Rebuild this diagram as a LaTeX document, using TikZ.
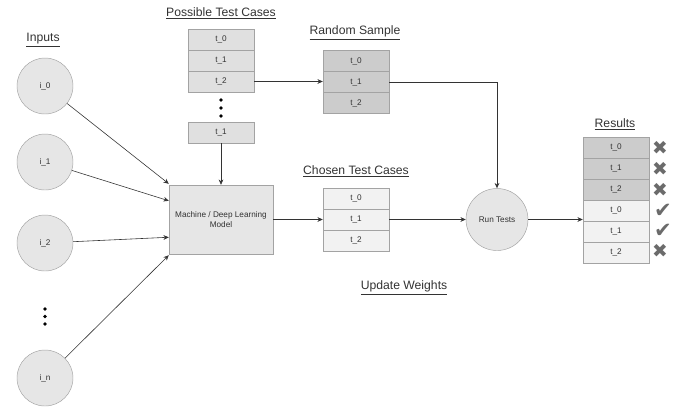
\documentclass[tikz,border=0pt]{standalone}
\usepackage{fontspec}
\setmainfont{Liberation Sans}
\newfontfamily\markfont{DejaVu Sans}
\usepackage{tikz}
\usetikzlibrary{arrows.meta,calc}
\definecolor{EdgeGray}{HTML}{A3A3A3}
\definecolor{TextGray}{HTML}{333333}
\definecolor{CaseFill}{HTML}{E0E0E0}
\definecolor{SampleFill}{HTML}{CCCCCC}
\definecolor{ChosenFill}{HTML}{F2F2F2}
\definecolor{ModelFill}{HTML}{E6E6E6}
\definecolor{MarkGray}{HTML}{6B6B6B}

\begin{document}
\begin{tikzpicture}[x=0.03cm, y=-0.03cm,
    cell/.style = {draw=EdgeGray, minimum width=1.98cm, minimum height=0.63cm,
                   inner sep=0pt, text=TextGray, font=\fontsize{7}{8}\selectfont},
    inputnode/.style = {circle, draw=EdgeGray, fill=ModelFill, minimum size=1.68cm,
                        inner sep=0pt, text=TextGray, font=\fontsize{7}{8}\selectfont},
    heading/.style = {text=TextGray, font=\fontsize{10.4}{12}\selectfont},
    resultmark/.style = {text=MarkGray, font=\markfont\fontsize{16}{17}\selectfont,
                         inner sep=0pt, text height=0.72em, text depth=0.02em},
    link/.style = {draw=black!80, line width=0.5pt, -{Stealth[length=4.5pt,width=4pt]}}]
    \useasboundingbox (0,0) rectangle (682,406);
    %% Headings
    \node[heading] (hinputs) at (43,40) {\underline{Inputs}};
    \node[heading] (hpossible) at (221,13) {\underline{Possible Test Cases}};
    \node[heading] (hrandom) at (355,33) {\underline{Random Sample}};
    \node[heading] (hchosen) at (356,171) {\underline{Chosen Test Cases}};
    \node[heading] (hresults) at (615,124) {\underline{Results}};
    \node[heading] (hupdate) at (404,288) {\underline{Update Weights}};
    %% Inputs
    \node[inputnode] (i0) at (45,86) {i\_0};
    \node[inputnode] (i1) at (45,162) {i\_1};
    \node[inputnode] (i2) at (45,243) {i\_2};
    \node[inputnode] (in) at (45,378) {i\_n};
    \fill (45,309) circle (1.8) (45,316.5) circle (1.8) (45,324) circle (1.8);
    %% Possible test cases
    \node[cell, fill=CaseFill] (pt0) at (221,39.5) {t\_0};
    \node[cell, fill=CaseFill] (pt1) at (221,60.5) {t\_1};
    \node[cell, fill=CaseFill] (pt2) at (221,81.5) {t\_2};
    \fill (221,100) circle (1.8) (221,108) circle (1.8) (221,116) circle (1.8);
    \node[cell, fill=CaseFill] (ptk) at (221,132.5) {t\_1};
    %% Random sample
    \node[cell, fill=SampleFill] (rs0) at (356,61) {t\_0};
    \node[cell, fill=SampleFill] (rs1) at (356,82) {t\_1};
    \node[cell, fill=SampleFill] (rs2) at (356,103) {t\_2};
    %% Model
    \node[draw=EdgeGray, fill=ModelFill, minimum width=3.12cm, minimum height=2.07cm,
          align=center, text=TextGray, font=\fontsize{7}{8.5}\selectfont]
          (ml) at (221,219.5) {Machine / Deep Learning\\Model};
    %% Chosen test cases
    \node[cell, fill=ChosenFill] (ct0) at (356,198.5) {t\_0};
    \node[cell, fill=ChosenFill] (ct1) at (356,219.5) {t\_1};
    \node[cell, fill=ChosenFill] (ct2) at (356,240.5) {t\_2};
    %% Run tests
    \node[inputnode, minimum size=1.86cm] (rt) at (497,219.5) {Run Tests};
    %% Results
    \node[cell, fill=SampleFill] (res0) at (616,147.5) {t\_0};
    \node[cell, fill=SampleFill] (res1) at (616,168.5) {t\_1};
    \node[cell, fill=SampleFill] (res2) at (616,189.5) {t\_2};
    \node[cell, fill=ChosenFill] (res3) at (616,210.5) {t\_0};
    \node[cell, fill=ChosenFill] (res4) at (616,231.5) {t\_1};
    \node[cell, fill=ChosenFill] (res5) at (616,252.5) {t\_2};
    \node[resultmark] (mk0) at (660,150) {✖};
    \node[resultmark] (mk1) at (660,171) {✖};
    \node[resultmark] (mk2) at (660,192.5) {✖};
    \node[resultmark, font=\markfont\fontsize{18}{19}\selectfont] (mk3) at (663,213) {✔};
    \node[resultmark, font=\markfont\fontsize{18}{19}\selectfont] (mk4) at (663,233) {✔};
    \node[resultmark] (mk5) at (660,253) {✖};
    %% Connectors
    \coordinate (inA) at ($(ml.north west)+(0,-1)$);
    \coordinate (inB) at ($(ml.north west)+(0,16)$);
    \coordinate (inC) at ($(ml.south west)+(0,-17)$);
    \coordinate (inD) at ($(ml.south west)+(0,1)$);
    \draw[link] (i0) -- (inA);
    \draw[link] (i1) -- (inB);
    \draw[link] (i2) -- (inC);
    \draw[link] (in) -- (inD);
    \draw[link] (ptk) -- (ml);
    \draw[link] (ml) -- (ct1);
    \draw[link] (pt2.east) -- (pt2.east -| rs1.west);
    \draw[link] (rs1.east) -| (rt.north);
    \draw[link] (ct1) -- (rt);
    \draw[link] (rt) -- (rt -| res3.west);
\end{tikzpicture}
\end{document}
